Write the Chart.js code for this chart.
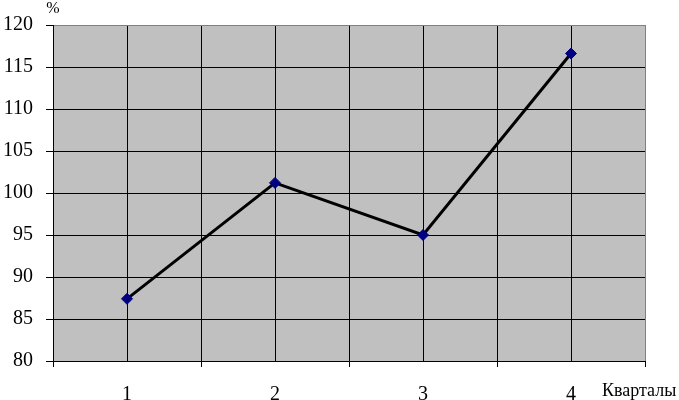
<!DOCTYPE html>
<html>
<head>
<meta charset="utf-8">
<script src="https://cdn.jsdelivr.net/npm/chart.js@4"></script>
<style>
  html, body { margin: 0; padding: 0; background: #fff; }
  #wrap { width: 679px; height: 400px; }
</style>
</head>
<body>
<div id="wrap"><canvas id="linechart"></canvas></div>
<script>
// Chart data
const quarters = [1, 2, 3, 4];
const percentValues = [87.4, 101.2, 95.0, 116.6];
const yTicks = [80, 85, 90, 95, 100, 105, 110, 115, 120];
const yTitle = '%';
const xTitle = 'Кварталы';

const points = quarters.map((q, i) => ({ x: q, y: percentValues[i] }));

// gray plot background, axis captions
const plotDecor = {
    id: 'plotDecor',
    beforeDraw(chart) {
        const a = chart.chartArea;
        const ctx = chart.ctx;
        ctx.save();
        ctx.fillStyle = '#c0c0c0';
        ctx.fillRect(a.left, a.top, a.right - a.left, a.bottom - a.top);
        ctx.restore();
    },
    afterDraw(chart) {
        const a = chart.chartArea;
        const ctx = chart.ctx;
        ctx.save();
        ctx.fillStyle = '#000';
        ctx.textBaseline = 'alphabetic';
        ctx.font = '16px "Liberation Serif"';
        ctx.textAlign = 'center';
        ctx.fillText(yTitle, a.left, 13);
        ctx.font = '18px "Liberation Serif"';
        ctx.textAlign = 'left';
        ctx.fillText(xTitle, a.right - 43, 396);
        ctx.restore();
    }
};

const ctxLine = document.getElementById('linechart');

new Chart(ctxLine, {
    type: 'line',
    data: {
        datasets: [{
            label: yTitle,
            data: points,
            borderColor: '#000',
            borderWidth: 3,
            pointStyle: 'rectRot',
            pointRadius: 5.5,
            pointBackgroundColor: '#000080',
            pointBorderColor: '#000080',
            pointBorderWidth: 1,
            tension: 0
        }]
    },
    options: {
        responsive: true,
        maintainAspectRatio: false,
        animation: false,
        layout: { padding: { top: 24, right: 34, left: 0, bottom: 0 } },
        plugins: {
            legend: { display: false },
            tooltip: { enabled: false }
        },
        scales: {
            x: {
                type: 'linear',
                min: 0.5,
                max: 4.5,
                afterFit: s => { s.height = 39; },
                afterBuildTicks: s => {
                    const t = [];
                    for (let v = 0.5; v <= 4.5; v += 0.5) t.push({ value: v });
                    s.ticks = t;
                },
                ticks: {
                    autoSkip: false,
                    maxRotation: 0,
                    padding: 16,
                    color: '#000',
                    font: { family: '"Liberation Serif"', size: 20 },
                    callback: v => (quarters.includes(v) ? String(v) : '')
                },
                grid: {
                    color: c => (c.tick && c.tick.value === 4.5 ? '#808080' : '#000'),
                    tickColor: c => (c.tick && c.tick.value % 1 === 0 ? 'rgba(0,0,0,0)' : '#000'),
                    tickLength: 6,
                    lineWidth: 1
                },
                border: { display: true, color: '#000', width: 1 }
            },
            y: {
                min: 80,
                max: 120,
                afterFit: s => { s.width = 53; },
                afterBuildTicks: s => { s.ticks = yTicks.map(v => ({ value: v })); },
                ticks: {
                    padding: 13,
                    color: '#000',
                    font: { family: '"Liberation Serif"', size: 20 }
                },
                grid: {
                    color: c => (c.tick && c.tick.value === 120 ? '#808080' : '#000'),
                    tickColor: '#000',
                    tickLength: 7,
                    lineWidth: 1
                },
                border: { display: true, color: '#000', width: 1 }
            }
        }
    },
    plugins: [plotDecor]
});
</script>
</body>
</html>
